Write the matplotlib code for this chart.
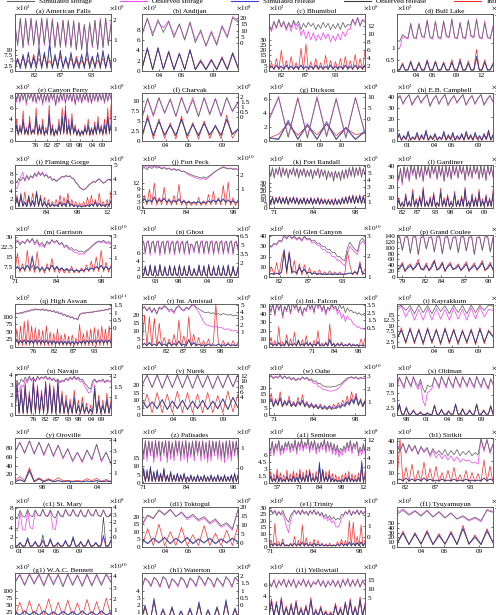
import numpy as np
import matplotlib
matplotlib.use("Agg")
import matplotlib.pyplot as plt
from matplotlib.lines import Line2D

plt.rcParams["font.family"] = ["Liberation Serif", "DejaVu Serif"]
plt.rcParams["mathtext.fontset"] = "stix"

C_SS, C_OS, C_SR, C_OR, C_IN = "#666666", "#f050f0", "#3c3ce0", "#3a3a48", "#f03030"

# ---- data (left-axis units) ----
a_ss = [22, 12, 25, 11, 25, 13, 25, 12, 24, 12, 25, 13, 25, 12, 24, 11, 23, 11, 24, 12, 24, 11, 24, 10, 23, 10, 22, 10, 23, 12, 24, 10, 24, 11, 25, 12, 22]
a_os = [21, 13, 25, 11, 24, 12, 25, 13, 24, 12, 25, 12, 24, 12, 25, 12, 23, 12, 24, 11, 24, 12, 23, 10, 23, 11, 22, 10, 22, 11, 24, 11, 25, 11, 25, 13, 23]
a_sr = [2, 6, 1, 8, 2, 9, 1, 7, 2, 12, 1, 9, 2, 14, 1, 8, 2, 10, 1, 7, 2, 9, 1, 6, 2, 8, 1, 11, 2, 7, 1, 9, 2, 10, 1, 8, 2]
a_or = [1, 5, 2, 7, 1, 8, 2, 6, 1, 10, 2, 8, 1, 12, 2, 7, 1, 9, 2, 6, 1, 8, 2, 5, 1, 7, 2, 9, 1, 6, 2, 8, 1, 9, 2, 7, 1]
a_in = [3, 6, 2, 7, 3, 5, 2, 8, 3, 6, 2, 7, 3, 5, 2, 6, 3, 7, 2, 5, 3, 6, 2, 7, 3, 5, 2, 6, 3, 7, 2, 5, 3, 6, 2, 7, 3]

b_ss = [7.2, 10.3, 6.8, 10.0, 7.5, 9.6, 6.5, 9.2, 6.0, 9.4, 5.5, 8.0, 4.8, 7.5, 5.0, 8.6, 6.5, 10.4, 9.5]
b_os = [7.0, 10.1, 7.4, 9.5, 8.4, 9.8, 7.0, 9.0, 6.2, 9.6, 6.0, 7.6, 5.0, 7.8, 5.3, 8.9, 6.8, 10.6, 9.8]
b_sr = [0.5, 4.6, 0.3, 4.5, 0.4, 3.8, 0.3, 3.5, 0.3, 4.2, 0.3, 2.0, 0.3, 2.2, 0.3, 2.6, 0.3, 3.5, 0.8]
b_or = [0.3, 4.2, 0.2, 4.3, 0.3, 3.6, 0.2, 3.3, 0.2, 4.0, 0.2, 1.8, 0.2, 2.0, 0.2, 2.4, 0.2, 3.3, 0.5]
b_in = [0.5, 4.4, 0.4, 4.6, 0.5, 3.9, 0.4, 3.4, 0.4, 4.1, 0.4, 2.2, 0.4, 2.3, 0.4, 2.8, 0.4, 3.6, 0.6]

c_ss = [45, 40, 48, 42, 50, 43, 48, 41, 47, 42, 49, 44, 48, 40, 46, 42, 47, 43, 46, 40, 45, 41, 47, 42, 46, 40, 45, 41, 46, 40, 47, 42, 45, 44, 50, 45, 51, 44, 49, 47]
c_os = [44, 38, 47, 41, 49, 42, 47, 39, 46, 38, 48, 40, 45, 34, 40, 31, 38, 30, 37, 29, 35, 30, 37, 31, 36, 28, 34, 29, 36, 30, 38, 33, 40, 40, 50, 44, 52, 43, 50, 48]
c_sr = [3, 5, 2, 6, 3, 5, 2, 6, 3, 5, 2, 5, 3, 6, 2, 5, 3, 5, 2, 6, 3, 5, 2, 5, 3, 6, 2, 5, 3, 5, 2, 6, 3, 5, 2, 6, 3, 5, 2, 6]
c_or = [2, 4, 2, 5, 2, 4, 2, 5, 2, 4, 2, 4, 2, 5, 2, 4, 2, 4, 2, 5, 2, 4, 2, 4, 2, 5, 2, 4, 2, 4, 2, 5, 2, 4, 2, 5, 2, 4, 2, 5]
c_in = [1, 8, 1, 12, 1, 20, 1, 10, 1, 14, 1, 8, 1, 22, 1, 26, 1, 9, 1, 12, 1, 8, 1, 15, 1, 10, 1, 9, 1, 12, 1, 14, 1, 10, 1, 16, 1, 12, 1, 20]

d_ss = [1.35, 1.3, 1.6, 1.5, 1.45, 2.1, 1.5, 1.45, 2.05, 1.55, 1.5, 2.2, 1.5, 1.45, 2.15, 1.5, 1.45, 2.2, 1.55, 1.5, 2.25, 1.5, 1.45, 2.1, 1.5, 1.45, 2.2, 1.55, 1.5, 2.25, 1.5, 1.45, 2.1, 1.5, 1.45, 1.9]
d_os = [1.0, 1.0, 1.5, 1.45, 1.4, 2.0, 1.45, 1.4, 2.1, 1.5, 1.45, 2.25, 1.45, 1.4, 2.2, 1.45, 1.4, 2.15, 1.5, 1.45, 2.3, 1.45, 1.4, 2.15, 1.45, 1.4, 2.25, 1.5, 1.45, 2.3, 1.45, 1.4, 2.2, 1.45, 1.4, 2.0]
d_sr = [0.05, 0.05, 0.3, 0.05, 0.05, 0.4, 0.05, 0.05, 0.35, 0.05, 0.05, 0.45, 0.05, 0.05, 0.4, 0.05, 0.05, 0.35, 0.05, 0.05, 0.4, 0.05, 0.05, 0.45, 0.05, 0.05, 0.35, 0.05, 0.05, 0.65, 0.05, 0.05, 0.4, 0.05, 0.05, 0.3]
d_or = [0.03, 0.04, 0.28, 0.03, 0.04, 0.37, 0.03, 0.04, 0.33, 0.03, 0.04, 0.42, 0.03, 0.04, 0.38, 0.03, 0.04, 0.33, 0.03, 0.04, 0.37, 0.03, 0.04, 0.42, 0.03, 0.04, 0.33, 0.03, 0.04, 0.55, 0.03, 0.04, 0.38, 0.03, 0.04, 0.28]
d_in = [0.05, 0.08, 0.35, 0.05, 0.08, 0.45, 0.05, 0.08, 0.4, 0.05, 0.08, 0.5, 0.05, 0.08, 0.45, 0.05, 0.08, 0.4, 0.05, 0.08, 0.5, 0.05, 0.08, 0.55, 0.05, 0.08, 0.45, 0.05, 0.08, 0.95, 0.05, 0.08, 0.5, 0.05, 0.08, 0.35]

e_ss = [8.4, 7.5, 8.6, 7.2, 8.5, 7.6, 8.6, 7.0, 8.4, 7.8, 8.5, 7.3, 8.6, 7.1, 8.3, 7.6, 8.5, 6.9, 8.4, 7.4, 8.5, 7.2, 8.6, 7.7, 8.4, 6.6, 8.3, 7.2, 8.5, 7.5, 8.6, 7.0, 8.4, 7.6, 8.5, 7.3, 8.6, 6.8, 8.3, 7.4, 8.5, 7.1, 8.4, 7.6, 8.6, 7.2, 8.5, 7.0, 8.4, 7.5, 8.6, 7.3, 8.5, 7.6, 8.4, 7.1, 8.6, 7.4, 8.5, 7.8]
e_os = [8.9, 7.0, 9.0, 6.9, 8.8, 7.3, 9.0, 6.5, 8.7, 7.5, 8.9, 7.0, 9.0, 6.8, 8.6, 7.2, 8.8, 6.5, 8.7, 7.0, 8.9, 6.9, 9.0, 7.4, 8.7, 6.3, 8.6, 6.9, 8.9, 7.2, 9.0, 6.7, 8.7, 7.3, 8.8, 7.0, 9.0, 6.5, 8.6, 7.1, 8.8, 6.8, 8.7, 7.3, 9.0, 6.9, 8.8, 6.7, 8.7, 7.2, 8.9, 7.0, 8.8, 7.3, 8.7, 6.8, 8.9, 7.1, 8.8, 7.5]
e_sr = [1.5, 3.0, 1.4, 2.5, 1.6, 4.0, 1.5, 2.2, 1.4, 3.5, 1.5, 2.0, 1.6, 4.5, 1.4, 2.5, 1.5, 3.0, 1.3, 2.0, 1.5, 5.0, 1.4, 2.5, 1.2, 2.0, 1.4, 3.0, 1.5, 4.5, 1.6, 5.5, 1.5, 3.0, 1.4, 4.0, 1.6, 2.5, 1.3, 2.0, 1.2, 1.8, 1.4, 2.5, 1.5, 3.0, 1.3, 2.2, 1.4, 2.8, 1.5, 3.5, 1.6, 2.5, 1.4, 3.0, 1.5, 4.5, 1.6, 3.0]
e_or = [1.3, 2.6, 1.2, 2.2, 1.4, 3.5, 1.3, 2.0, 1.2, 3.0, 1.3, 1.8, 1.4, 4.0, 1.2, 2.2, 1.3, 2.6, 1.1, 1.8, 1.3, 4.4, 1.2, 2.2, 1.0, 1.8, 1.2, 2.6, 1.3, 4.0, 1.4, 5.0, 1.3, 2.6, 1.2, 3.5, 1.4, 2.2, 1.1, 1.8, 1.0, 1.6, 1.2, 2.2, 1.3, 2.6, 1.1, 2.0, 1.2, 2.5, 1.3, 3.0, 1.4, 2.2, 1.2, 2.6, 1.3, 4.0, 1.4, 2.6]
e_in = [1.2, 4.0, 1.0, 3.0, 1.2, 5.5, 1.1, 2.5, 1.0, 4.5, 1.1, 2.2, 1.2, 6.0, 1.0, 3.0, 1.1, 4.0, 0.9, 2.5, 1.1, 6.5, 1.0, 3.0, 0.8, 2.2, 1.0, 4.0, 1.1, 6.0, 1.2, 6.5, 1.1, 4.0, 1.0, 5.0, 1.2, 3.0, 0.9, 2.2, 0.8, 2.0, 1.0, 3.0, 1.1, 4.0, 0.9, 2.5, 1.0, 3.5, 1.1, 4.5, 1.2, 3.0, 1.0, 4.0, 1.1, 6.0, 1.2, 6.5]

f_ss = [6.0, 10.6, 6.5, 10.8, 7.0, 10.5, 6.2, 10.7, 6.8, 10.2, 6.0, 10.6, 6.5, 10.4, 6.3, 10.8, 7.5, 9.5]
f_os = [5.5, 10.4, 6.0, 10.6, 6.8, 10.2, 6.0, 10.9, 7.0, 10.8, 6.2, 10.9, 6.8, 10.6, 6.0, 10.7, 7.2, 9.8]
f_sr = [1.5, 5.8, 1.5, 5.0, 1.6, 4.0, 1.5, 5.5, 1.4, 4.2, 1.5, 4.5, 1.6, 3.8, 1.5, 5.5, 1.8, 3.0]
f_or = [1.3, 5.5, 1.3, 4.7, 1.4, 3.8, 1.3, 5.2, 1.2, 4.0, 1.3, 4.3, 1.4, 3.6, 1.3, 5.2, 1.6, 2.8]
f_in = [0.6, 6.5, 0.5, 5.5, 0.6, 4.5, 0.5, 6.2, 0.5, 4.6, 0.5, 5.0, 0.6, 4.0, 0.5, 6.4, 0.7, 3.0]

g_ss = [3.0, 6.2, 0.5, 6.1, 0.4, 6.2, 0.6, 6.0, 0.4, 6.2, 1.0]
g_os = [3.3, 6.4, 0.7, 6.3, 0.6, 6.4, 0.8, 6.2, 0.6, 6.3, 1.2]
g_sr = [0.5, 0.3, 3.0, 0.3, 2.5, 0.3, 2.8, 0.3, 2.0, 0.3, 1.5]
g_or = [0.4, 0.2, 2.7, 0.2, 2.2, 0.2, 2.5, 0.2, 1.8, 0.2, 1.3]
g_in = [0.4, 1.0, 2.5, 0.8, 2.2, 0.9, 2.4, 0.8, 1.9, 0.9, 1.2]

h_ss = [38, 41, 34, 39, 42, 33, 38, 41, 35, 39, 42, 32, 38, 41, 34, 39, 42, 33, 38, 41, 35, 39, 42, 33, 38, 41, 34, 39, 42, 33, 38, 41, 36]
h_os = [37, 41.5, 33, 38.5, 42, 32, 37, 41.5, 34, 38.5, 42, 31, 37, 41.5, 33, 38.5, 42, 32, 37, 41.5, 34, 38.5, 42, 32, 37, 41.5, 33, 38.5, 42, 32, 37, 41.5, 35]
h_sr = [2, 7, 1, 5, 2, 9, 1, 4, 2, 8, 1, 6, 2, 10, 1, 5, 2, 7, 1, 4, 2, 9, 1, 6, 2, 8, 1, 5, 2, 7, 1, 9, 2, 6, 1, 8, 2, 5, 1, 7, 2, 10, 1, 6]
h_or = [1.5, 6, 1, 4.5, 1.5, 8, 1, 3.5, 1.5, 7, 1, 5, 1.5, 9, 1, 4.5, 1.5, 6, 1, 3.5, 1.5, 8, 1, 5, 1.5, 7, 1, 4.5, 1.5, 6, 1, 8, 1.5, 5, 1, 7, 1.5, 4.5, 1, 6, 1.5, 9, 1, 5]
h_in = [1, 5, 0.5, 4, 1, 6, 0.5, 3, 1, 5, 0.5, 4, 1, 7, 0.5, 3, 1, 5, 0.5, 3, 1, 6, 0.5, 4, 1, 5, 0.5, 3, 1, 5, 0.5, 6, 1, 4, 0.5, 5, 1, 3, 0.5, 5, 1, 7, 0.5, 4]

i_ss = [6.5, 6.0, 7.0, 6.4, 7.2, 6.6, 7.5, 6.8, 7.6, 7.0, 8.0, 7.4, 8.3, 7.6, 8.2, 7.4, 7.8, 7.0, 7.3, 6.5, 6.8, 6.2, 6.6, 6.9, 7.4, 7.2, 7.6, 7.3, 7.5, 7.0, 6.8, 6.0, 5.5, 4.8, 4.5, 4.2, 4.5, 5.0, 5.5, 5.8, 6.2, 6.0, 6.5, 6.8, 6.3, 5.8, 6.0, 6.5, 6.7, 6.4]
i_os = [5.0, 4.5, 6.0, 7.5, 8.4, 6.2, 7.8, 6.5, 7.5, 7.2, 8.3, 7.6, 8.6, 7.8, 8.5, 7.5, 8.0, 7.2, 7.4, 6.6, 6.9, 6.3, 6.7, 7.0, 7.5, 7.3, 7.7, 7.4, 7.6, 7.1, 6.9, 6.1, 5.6, 4.9, 4.6, 4.3, 4.6, 5.1, 5.6, 5.9, 6.3, 6.1, 6.6, 6.9, 6.4, 5.9, 6.1, 6.6, 6.8, 6.5]
i_sr = [0.5, 2.5, 0.4, 3.5, 0.5, 1.5, 0.4, 3.0, 0.5, 1.8, 0.4, 3.8, 0.5, 2.5, 0.4, 1.5, 0.5, 1.2, 0.4, 1.0, 0.5, 0.8, 0.4, 1.5, 0.5, 1.2, 0.4, 2.0, 0.5, 1.0, 0.4, 0.7, 0.4, 0.6, 0.3, 0.6, 0.4, 0.8, 0.4, 1.0, 0.5, 1.5, 0.4, 1.2, 0.5, 0.8, 0.4, 1.0, 0.5, 1.8]
i_or = [0.4, 2.0, 0.3, 3.0, 0.4, 1.2, 0.3, 2.6, 0.4, 1.5, 0.3, 3.4, 0.4, 2.2, 0.3, 1.3, 0.4, 1.0, 0.3, 0.8, 0.4, 0.7, 0.3, 1.3, 0.4, 1.0, 0.3, 1.8, 0.4, 0.9, 0.3, 0.6, 0.3, 0.5, 0.2, 0.5, 0.3, 0.7, 0.3, 0.9, 0.4, 1.3, 0.3, 1.0, 0.4, 0.7, 0.3, 0.9, 0.4, 1.6]
i_in = [0.3, 3.0, 0.3, 2.5, 0.3, 3.8, 0.3, 2.0, 0.3, 3.5, 0.3, 4.0, 0.3, 3.0, 0.3, 2.5, 0.3, 2.0, 0.3, 1.5, 0.3, 2.0, 0.3, 3.0, 0.3, 2.5, 0.3, 3.5, 0.3, 2.0, 0.3, 1.5, 0.3, 1.2, 0.3, 1.5, 0.3, 2.5, 0.3, 3.0, 0.3, 2.0, 0.3, 3.5, 0.3, 1.5, 0.3, 2.0, 0.3, 4.0]

j_ss = [19.0, 19.5, 18.5, 19.8, 19.0, 20.0, 19.2, 19.6, 18.8, 19.4, 18.6, 19.0, 18.2, 18.8, 18.0, 18.5, 17.5, 17.8, 17.0, 16.5, 16.0, 15.5, 15.2, 14.8, 14.5, 15.0, 14.4, 15.2, 16.0, 17.0, 17.8, 18.5, 19.0, 19.5, 19.2, 18.8, 19.0, 18.6, 18.8, 18.4]
j_os = [19.8, 20.2, 19.5, 20.3, 19.8, 20.4, 19.9, 20.0, 19.2, 19.8, 18.9, 19.3, 18.5, 19.0, 18.2, 18.7, 17.6, 17.7, 16.8, 16.0, 15.4, 14.8, 14.4, 14.0, 13.8, 14.3, 13.6, 14.6, 15.6, 16.8, 17.6, 18.6, 19.3, 19.9, 19.5, 19.0, 19.3, 18.8, 19.0, 18.6]
j_sr = [3.5, 4.5, 3.0, 4.0, 3.2, 5.5, 3.0, 4.2, 3.5, 4.8, 3.0, 4.0, 2.8, 3.8, 3.0, 4.5, 2.8, 3.5, 2.5, 3.2, 2.4, 3.0, 2.5, 3.2, 2.3, 3.0, 2.5, 3.5, 2.8, 4.0, 3.0, 4.2, 3.2, 4.5, 3.0, 4.0, 2.8, 3.6, 2.6, 3.2]
j_or = [3.0, 4.2, 2.6, 3.6, 2.8, 5.0, 2.7, 3.8, 3.1, 4.4, 2.7, 3.6, 2.5, 3.4, 2.7, 4.0, 2.5, 3.2, 2.3, 2.9, 2.2, 2.7, 2.3, 2.9, 2.1, 2.7, 2.3, 3.2, 2.5, 3.6, 2.7, 3.8, 2.9, 4.1, 2.7, 3.6, 2.5, 3.3, 2.4, 2.9]
j_in = [1.5, 6.0, 1.4, 9.0, 1.5, 12.0, 1.3, 5.0, 1.5, 10.0, 1.4, 4.5, 1.3, 6.0, 1.5, 11.5, 1.3, 4.0, 1.2, 3.5, 1.2, 3.0, 1.3, 5.0, 1.2, 3.5, 1.3, 6.5, 1.4, 8.0, 1.5, 5.0, 1.5, 11.0, 1.4, 12.5, 1.3, 5.0, 1.2, 4.0]

k_ss = [47, 38, 49, 36, 48, 40, 50, 37, 49, 39, 48, 36, 47, 40, 49, 38, 48, 36, 47, 39, 48, 37, 46, 38, 47, 35, 46, 39, 48, 36, 47, 38, 46, 34, 45, 37, 44, 32, 45, 36, 44, 33, 46, 35, 47, 36, 49, 38, 50, 37, 49, 39, 50, 37, 48, 40]
k_os = [46, 40, 48, 38, 47, 41, 49, 39, 48, 41, 47, 38, 46, 42, 48, 40, 47, 38, 46, 41, 47, 39, 45, 40, 46, 37, 45, 41, 47, 38, 46, 40, 45, 36, 44, 39, 43, 35, 44, 38, 43, 36, 45, 37, 46, 38, 47, 40, 49, 39, 48, 41, 49, 39, 47, 41]
k_sr = [12, 6, 13, 5, 12, 7, 13, 6, 12, 6, 13, 5, 12, 7, 13, 6, 12, 5, 11, 6, 12, 5, 11, 6, 12, 5, 11, 6, 12, 5, 11, 6, 10, 5, 10, 5, 10, 4, 11, 5, 10, 5, 12, 6, 13, 6, 14, 7, 15, 6, 14, 7, 15, 6, 14, 7]
k_or = [11, 5, 12, 4.5, 11, 6, 12, 5, 11, 5, 12, 4.5, 11, 6, 12, 5, 11, 4.5, 10, 5, 11, 4.5, 10, 5, 11, 4.5, 10, 5, 11, 4.5, 10, 5, 9, 4.5, 9, 4.5, 9, 4, 10, 4.5, 9, 4.5, 11, 5, 12, 5, 13, 6, 14, 5, 13, 6, 14, 5, 13, 6]
k_in = [13, 5, 14, 4, 13, 6, 14, 5, 13, 5, 14, 4, 13, 6, 14, 5, 13, 4, 12, 5, 13, 4, 12, 5, 13, 4, 12, 5, 13, 4, 12, 5, 11, 4, 11, 4, 11, 3, 12, 4, 11, 4, 13, 5, 14, 5, 15, 6, 16, 5, 15, 6, 16, 5, 15, 6]

l_ss = [36, 28, 38, 24, 40, 30, 39, 27, 41, 33, 40, 28, 41, 30, 40, 26, 41, 32, 40, 29, 41, 33, 40, 28, 41, 31, 40, 26, 41, 30, 40, 28, 41, 32, 40, 29, 41, 33, 40, 27, 41, 31, 40, 29, 41, 33, 40, 28, 41, 30, 40, 27, 41, 32, 40, 30]
l_os = [35, 26, 37, 22, 39, 28, 38, 25, 40, 31, 39, 27, 40, 29, 39, 25, 40, 31, 39, 28, 40, 32, 39, 27, 40, 30, 39, 25, 40, 29, 39, 27, 40, 31, 39, 28, 40, 32, 39, 26, 40, 30, 39, 28, 40, 32, 39, 27, 40, 29, 39, 26, 40, 31, 39, 29]
l_sr = [2, 8, 2, 5, 2, 12, 2, 6, 2, 15, 2, 7, 2, 10, 2, 18, 2, 6, 2, 9, 2, 13, 2, 5, 2, 16, 2, 8, 2, 11, 2, 6, 2, 14, 2, 7, 2, 10, 2, 18, 2, 6, 2, 12, 2, 9, 2, 15, 2, 7, 2, 11, 2, 8, 2, 14]
l_or = [1.5, 7, 1.5, 4.5, 1.5, 10, 1.5, 5, 1.5, 13, 1.5, 6, 1.5, 9, 1.5, 16, 1.5, 5, 1.5, 8, 1.5, 11, 1.5, 4.5, 1.5, 14, 1.5, 7, 1.5, 10, 1.5, 5, 1.5, 12, 1.5, 6, 1.5, 9, 1.5, 16, 1.5, 5, 1.5, 10, 1.5, 8, 1.5, 13, 1.5, 6, 1.5, 10, 1.5, 7, 1.5, 12]
l_in = [1, 10, 1, 6, 1, 14, 1, 7, 1, 18, 1, 9, 1, 12, 1, 20, 1, 7, 1, 11, 1, 15, 1, 6, 1, 19, 1, 10, 1, 13, 1, 7, 1, 16, 1, 8, 1, 12, 1, 20, 1, 7, 1, 14, 1, 11, 1, 18, 1, 9, 1, 13, 1, 10, 1, 17]

m_ss = [25, 27, 24, 26.5, 25, 28.5, 26, 29, 25.5, 28, 24, 26, 23, 27, 25, 28, 26, 27.5, 24.5, 26, 23, 24, 21.5, 22, 20, 20.5, 19, 19.5, 18.5, 20, 21, 23, 24.5, 26, 27, 26.5, 27.5, 26, 26.5, 25.5]
m_os = [26, 28, 25, 27, 25.5, 28, 25.5, 28.5, 24, 26.5, 22.5, 24.5, 22, 26, 24.5, 27.5, 25.5, 27, 24, 25.5, 22, 23, 20.5, 20.5, 18.5, 18.5, 17, 17.5, 17, 19, 20.5, 22.5, 24, 25.5, 26.5, 25.5, 26.5, 25, 25.5, 24.5]
m_sr = [6, 8, 5.5, 7.5, 6, 9, 6, 16, 6, 8, 5.5, 7, 5, 7.5, 6, 9, 6, 8, 5.5, 7, 5, 6.5, 5, 6, 4.5, 5.5, 4.5, 5.5, 5, 6.5, 5.5, 7, 6, 8, 6.5, 9, 6, 8, 6, 7.5]
m_or = [5.5, 7.5, 5, 7, 5.5, 8.5, 5.5, 14, 5.5, 7.5, 5, 6.5, 4.5, 7, 5.5, 8.5, 5.5, 7.5, 5, 6.5, 4.5, 6, 4.5, 5.5, 4, 5, 4, 5, 4.5, 6, 5, 6.5, 5.5, 7.5, 6, 8.5, 5.5, 7.5, 5.5, 7]
m_in = [4, 18, 3.5, 10, 4, 20, 4, 9, 3.5, 19, 3.5, 8, 3, 10, 4, 14, 3.5, 8, 3, 7, 3, 6, 3, 8, 3, 6, 3, 7, 3.5, 9, 4, 12, 4, 15, 4, 20, 4, 11, 3.5, 9]

n_ss = [8.5, 8.8, 6.2, 8.6, 8.9, 6.0, 8.5, 8.8, 6.3, 8.6, 8.9, 5.9, 8.4, 8.8, 6.1, 8.6, 8.9, 6.2, 8.5, 8.8, 6.0, 8.6, 8.9, 6.3, 8.4, 8.8, 6.1, 8.5, 8.9, 6.0, 8.2, 8.0, 6.5, 8.5, 8.8, 6.2, 8.6, 8.9, 6.1, 8.5, 8.8, 6.2, 8.6, 8.9, 6.0, 8.5, 8.8, 6.3, 8.6, 8.9, 6.1, 8.5, 8.8, 6.2, 8.6, 8.9, 6.0, 8.5, 8.8, 7.0]
n_os = [8.7, 9.0, 5.7, 8.8, 9.1, 5.4, 8.7, 9.0, 5.8, 8.8, 9.1, 5.3, 8.6, 9.0, 5.6, 8.8, 9.1, 5.7, 8.7, 9.0, 5.5, 8.8, 9.1, 5.8, 8.6, 9.0, 5.6, 8.7, 9.1, 5.5, 8.3, 7.8, 6.0, 8.7, 9.0, 5.7, 8.8, 9.1, 5.6, 8.7, 9.0, 5.7, 8.8, 9.1, 5.5, 8.7, 9.0, 5.8, 8.8, 9.1, 5.6, 8.7, 9.0, 5.7, 8.8, 9.1, 5.5, 8.7, 9.0, 6.6]
n_sr = [0.6, 0.5, 2.8, 0.6, 0.5, 3.1, 0.6, 0.5, 2.9, 0.6, 0.5, 3.2, 0.6, 0.5, 2.7, 0.6, 0.5, 3.0, 0.6, 0.5, 2.9, 0.6, 0.5, 3.1, 0.6, 0.5, 2.8, 0.6, 0.5, 3.0, 0.6, 0.5, 2.2, 0.6, 0.5, 3.1, 0.6, 0.5, 2.9, 0.6, 0.5, 3.2, 0.6, 0.5, 2.8, 0.6, 0.5, 3.0, 0.6, 0.5, 2.9, 0.6, 0.5, 3.1, 0.6, 0.5, 2.8, 0.6, 0.5, 2.6]
n_or = [0.5, 0.4, 2.6, 0.5, 0.4, 2.9, 0.5, 0.4, 2.7, 0.5, 0.4, 3.0, 0.5, 0.4, 2.5, 0.5, 0.4, 2.8, 0.5, 0.4, 2.7, 0.5, 0.4, 2.9, 0.5, 0.4, 2.6, 0.5, 0.4, 2.8, 0.5, 0.4, 2.0, 0.5, 0.4, 2.9, 0.5, 0.4, 2.7, 0.5, 0.4, 3.0, 0.5, 0.4, 2.6, 0.5, 0.4, 2.8, 0.5, 0.4, 2.7, 0.5, 0.4, 2.9, 0.5, 0.4, 2.6, 0.5, 0.4, 2.4]
n_in = [0.5, 0.4, 2.3, 0.5, 0.4, 2.6, 0.5, 0.4, 2.4, 0.5, 0.4, 2.7, 0.5, 0.4, 2.2, 0.5, 0.4, 2.5, 0.5, 0.4, 2.4, 0.5, 0.4, 2.6, 0.5, 0.4, 2.3, 0.5, 0.4, 2.5, 0.5, 0.4, 1.8, 0.5, 0.4, 2.6, 0.5, 0.4, 2.4, 0.5, 0.4, 2.7, 0.5, 0.4, 2.3, 0.5, 0.4, 2.5, 0.5, 0.4, 2.4, 0.5, 0.4, 2.6, 0.5, 0.4, 2.3, 0.5, 0.4, 2.1]

o_ss = [31, 30, 33, 32, 36, 35, 40, 37, 41, 38, 40, 37, 39, 36, 40, 37, 38, 35, 36, 33, 33, 30, 30, 27, 27, 24, 24, 20, 20, 17, 16, 28, 34, 30, 27, 25, 35, 38, 34]
o_os = [30, 29, 32, 31, 35, 34, 43, 38, 41, 37, 39, 36, 38, 35, 39, 36, 37, 33, 34, 31, 31, 27, 27, 24, 24, 20, 20, 16, 16, 13, 11, 22, 30, 27, 24, 22, 32, 35, 32]
o_sr = [3, 3.5, 3, 4, 3, 5, 27, 6, 24, 5, 6, 4, 10, 5, 8, 4, 5, 3.5, 4, 3, 3.5, 3, 3, 3, 3, 3, 3, 3, 3, 3, 3, 3.5, 4, 3.5, 5, 3.5, 13, 4, 3.5]
o_or = [2.5, 3, 2.5, 3.5, 2.5, 4.5, 24, 5, 22, 4.5, 5, 3.5, 9, 4.5, 7, 3.5, 4.5, 3, 3.5, 2.5, 3, 2.5, 2.5, 2.5, 2.5, 2.5, 2.5, 2.5, 2.5, 2.5, 2.5, 3, 3.5, 3, 4.5, 3, 11, 3.5, 3]
o_in = [2, 10, 2, 14, 2, 18, 26, 3, 25, 3, 16, 2, 13, 2, 12, 2, 9, 2, 6, 2, 7, 2, 5, 2, 6, 2, 5, 2, 5, 2, 3, 25, 12, 2, 6, 2, 15, 2, 8]

p_ss = [134, 136, 90, 135, 137, 80, 136, 137, 75, 135, 137, 95, 134, 136, 85, 136, 137, 78, 135, 137, 92, 134, 136, 82, 136, 137, 88, 135, 137, 76, 134, 136, 90, 136, 137, 85, 135]
p_os = [135, 137, 92, 136, 138, 83, 137, 138, 78, 136, 138, 97, 135, 137, 87, 137, 138, 80, 136, 138, 94, 135, 137, 84, 137, 138, 90, 136, 138, 79, 135, 137, 92, 137, 138, 87, 136]
p_sr = [25, 30, 45, 22, 32, 40, 28, 35, 50, 30, 25, 42, 24, 34, 55, 26, 30, 48, 22, 36, 44, 28, 30, 40, 25, 33, 46, 24, 31, 42, 27, 35, 50, 26, 30, 44, 28]
p_or = [22, 28, 42, 20, 30, 37, 26, 33, 47, 28, 23, 39, 22, 31, 52, 24, 28, 45, 20, 34, 41, 26, 28, 37, 23, 31, 43, 22, 29, 39, 25, 33, 47, 24, 28, 41, 26]
p_in = [20, 35, 50, 18, 38, 45, 22, 40, 60, 25, 30, 48, 20, 42, 58, 22, 35, 52, 18, 40, 50, 24, 34, 45, 20, 38, 52, 18, 36, 48, 22, 40, 56, 20, 35, 50, 22]

q_ss = [108, 112, 110, 114, 112, 117, 116, 120, 119, 124, 122, 126, 123, 125, 122, 126, 121, 124, 119, 122, 117, 120, 114, 117, 110, 113, 105, 108, 101, 104, 97, 100, 93, 95, 90, 108, 110, 113, 112, 115, 113, 116, 115, 118, 117, 120, 119, 122, 121, 124, 123, 127, 126]
q_os = [109, 113, 111, 115, 113, 118, 117, 121, 120, 125, 123, 127, 124, 126, 123, 127, 122, 125, 120, 123, 118, 121, 115, 118, 111, 114, 106, 109, 102, 105, 98, 101, 94, 96, 91, 109, 111, 114, 113, 116, 114, 117, 116, 119, 118, 121, 120, 123, 122, 125, 124, 128, 127]
q_sr = [14, 24, 13, 23, 14, 25, 13, 24, 14, 23, 13, 25, 14, 24, 13, 23, 14, 24, 13, 22, 12, 22, 12, 21, 12, 21, 11, 20, 11, 20, 11, 19, 11, 19, 12, 21, 13, 22, 13, 23, 14, 23, 14, 24, 14, 24, 15, 25, 14, 24, 15, 25, 14]
q_or = [12, 21, 11, 20, 12, 22, 11, 21, 12, 20, 11, 22, 12, 21, 11, 20, 12, 21, 11, 19, 10, 19, 10, 18, 10, 18, 9, 17, 9, 17, 9, 16, 9, 16, 10, 18, 11, 19, 11, 20, 12, 20, 12, 21, 12, 21, 13, 22, 12, 21, 13, 22, 12]
q_in = [4, 60, 4, 70, 4, 85, 4, 90, 4, 70, 4, 65, 4, 60, 4, 55, 4, 70, 4, 50, 4, 45, 4, 60, 4, 40, 4, 45, 4, 35, 4, 40, 4, 30, 4, 75, 4, 45, 4, 55, 4, 60, 4, 65, 4, 60, 4, 70, 4, 60, 4, 70, 4]

r_ss = [24, 25.5, 23, 25, 22, 24.5, 21, 25, 24, 26, 25, 23, 24, 22, 25, 26, 24, 23, 25, 24, 26, 27, 25, 24, 23, 22, 21.5, 22, 21, 21.5, 20.5, 21, 20, 21, 20.5, 20, 20.5, 19.5, 20, 19.5]
r_os = [23.5, 25, 22.5, 24.5, 21.5, 24, 20.5, 24.5, 23.5, 25.5, 24.5, 22, 23, 21, 24.5, 25.5, 23.5, 22.5, 24.5, 23.5, 25.5, 26.5, 24, 22, 19, 16, 14, 13.5, 13, 12.5, 13, 12, 12.5, 11.5, 11, 11.5, 10.5, 10, 10.5, 10]
r_sr = [1, 2.5, 1, 3, 1, 2, 1, 3.5, 1, 2, 1, 3, 1, 2.5, 1, 4, 1, 2, 1, 5, 1, 3, 1, 2, 1, 1.5, 1, 2, 1, 1.5, 1, 2, 1, 1.5, 1, 2, 1, 1.5, 1, 1.5]
r_or = [0.8, 2, 0.8, 2.5, 0.8, 1.6, 0.8, 3, 0.8, 1.6, 0.8, 2.5, 0.8, 2, 0.8, 3.4, 0.8, 1.6, 0.8, 4.2, 0.8, 2.5, 0.8, 1.6, 0.8, 1.2, 0.8, 1.6, 0.8, 1.2, 0.8, 1.6, 0.8, 1.2, 0.8, 1.6, 0.8, 1.2, 0.8, 1.2]
r_in = [0.5, 20, 0.5, 19, 0.5, 18, 0.5, 15, 0.5, 6, 0.5, 5, 0.5, 8, 0.5, 17, 0.5, 7, 0.5, 19, 0.5, 8, 0.5, 6, 0.5, 4, 0.5, 5, 0.5, 3, 27, 3, 0.5, 4, 0.5, 3, 0.5, 4, 0.5, 3]

s_ss = [50, 44, 52, 40, 54, 46, 52, 38, 50, 45, 53, 42, 55, 48, 52, 44, 50, 40, 48, 45, 54, 47, 52, 43, 55, 49, 53, 45, 51, 42, 49, 46, 53, 48, 50, 44, 52, 47, 50, 42, 48, 44, 45, 42, 43, 40, 42, 39, 40, 38]
s_os = [51, 42, 53, 38, 55, 44, 51, 35, 49, 43, 54, 40, 56, 46, 51, 42, 49, 38, 47, 43, 55, 45, 51, 41, 56, 47, 52, 43, 50, 39, 48, 44, 52, 46, 48, 40, 45, 35, 40, 31, 38, 34, 33, 28, 27, 24, 25, 22, 23, 21]
s_sr = [2, 5, 1.5, 4, 2, 6, 1.5, 3, 2, 8, 1.5, 4, 2, 5, 1.5, 9, 2, 4, 1.5, 6, 2, 5, 1.5, 4, 2, 7, 1.5, 3, 2, 5, 1.5, 10, 2, 4, 1.5, 5, 2, 4, 1.5, 3, 2, 4, 1.5, 3, 2, 3, 1.5, 2.5, 1.5, 2.5]
s_or = [1.6, 4, 1.2, 3.2, 1.6, 4.8, 1.2, 2.4, 1.6, 6.4, 1.2, 3.2, 1.6, 4, 1.2, 7.2, 1.6, 3.2, 1.2, 4.8, 1.6, 4, 1.2, 3.2, 1.6, 5.6, 1.2, 2.4, 1.6, 4, 1.2, 8, 1.6, 3.2, 1.2, 4, 1.6, 3.2, 1.2, 2.4, 1.6, 3.2, 1.2, 2.4, 1.6, 2.4, 1.2, 2, 1.2, 2]
s_in = [1, 12, 1, 8, 1, 25, 1, 6, 1, 15, 1, 10, 1, 18, 1, 7, 1, 9, 1, 14, 1, 6, 1, 8, 1, 20, 1, 5, 1, 6, 1, 28, 1, 5, 1, 4, 1, 6, 1, 3, 1, 5, 1, 4, 1, 3, 1, 10, 1, 11]

t_ss = [18.5, 19.5, 17, 19.3, 15.5, 19.5, 16, 19.3, 15.5, 19.5, 16.5, 19.2, 15.5, 19.4, 16, 19.3, 15.5, 19.5, 16, 19.4, 17, 19.5, 19]
t_os = [17, 19, 14, 18, 12.5, 17.5, 12.5, 18, 12.5, 17.8, 13, 17.5, 12.5, 18, 13, 17.6, 12.5, 18.2, 13, 18.5, 14, 17.5, 17]
t_sr = [4, 8, 2.5, 8.5, 2.5, 8, 2, 8.5, 2.5, 8, 2, 8.5, 2.5, 8, 2, 7.5, 2.5, 8, 2, 8.5, 2.5, 7.5, 5]
t_or = [3.8, 7.6, 2.3, 8.1, 2.3, 7.6, 1.8, 8.1, 2.3, 7.6, 1.8, 8.1, 2.3, 7.6, 1.8, 7.1, 2.3, 7.6, 1.8, 8.1, 2.3, 7.1, 4.7]
t_in = [3.5, 9, 1.5, 9, 1.5, 8.5, 1, 9, 1.5, 8.5, 1, 9, 1.5, 8.5, 1, 8, 1.5, 8.5, 1, 9, 1.5, 8, 5]

u_ss = [3.2, 3.4, 3.0, 3.6, 3.3, 3.8, 3.4, 3.9, 3.5, 3.8, 3.4, 3.9, 3.6, 3.8, 3.7, 3.9, 3.6, 3.8, 3.5, 3.7, 3.4, 3.6, 3.3, 3.5, 3.4, 3.7, 3.5, 3.8, 3.6, 3.9, 3.6, 3.8, 3.5, 3.6, 3.2, 3.0, 2.7, 2.6, 3.4, 3.6, 3.3, 3.5, 3.4, 3.6, 3.3, 3.5, 3.4, 3.4]
u_os = [2.0, 2.2, 2.4, 3.0, 2.8, 3.5, 3.2, 3.8, 3.4, 3.7, 3.3, 3.8, 3.5, 3.8, 3.6, 3.8, 3.5, 3.7, 3.4, 3.6, 3.3, 3.5, 3.2, 3.4, 3.3, 3.6, 3.4, 3.7, 3.5, 3.8, 3.5, 3.7, 3.3, 3.4, 2.9, 2.6, 2.2, 2.3, 3.1, 3.5, 3.2, 3.4, 3.3, 3.5, 3.2, 3.4, 3.3, 3.3]
u_sr = [0.2, 3.2, 0.2, 2.5, 0.2, 3.0, 0.2, 2.0, 0.2, 3.5, 0.2, 2.8, 0.2, 2.2, 0.2, 3.3, 0.2, 3.0, 0.2, 2.6, 0.2, 3.4, 0.2, 2.0, 0.2, 1.5, 0.2, 1.2, 0.2, 1.8, 0.2, 1.0, 0.2, 1.2, 0.2, 0.8, 0.2, 0.6, 0.2, 2.8, 0.2, 1.5, 0.2, 1.0, 0.2, 1.6, 0.2, 1.2]
u_or = [0.2, 2.7, 0.2, 2.1, 0.2, 2.6, 0.2, 1.7, 0.2, 3.0, 0.2, 2.4, 0.2, 1.9, 0.2, 2.8, 0.2, 2.6, 0.2, 2.2, 0.2, 2.9, 0.2, 1.7, 0.2, 1.3, 0.2, 1.0, 0.2, 1.5, 0.2, 0.9, 0.2, 1.0, 0.2, 0.7, 0.2, 0.5, 0.2, 2.4, 0.2, 1.3, 0.2, 0.9, 0.2, 1.4, 0.2, 1.0]
u_in = [0.1, 3.5, 0.1, 2.8, 0.1, 3.2, 0.1, 2.4, 0.1, 3.6, 0.1, 3.0, 0.1, 2.5, 0.1, 3.4, 0.1, 3.2, 0.1, 2.9, 0.1, 3.5, 0.1, 2.4, 0.1, 2.0, 0.1, 1.6, 0.1, 2.5, 0.1, 1.5, 0.1, 1.8, 0.1, 1.2, 0.1, 1.0, 0.1, 3.0, 0.1, 2.0, 0.1, 1.5, 0.1, 2.2, 0.1, 1.6]

v_ss = [20, 26.5, 18.5, 26.8, 18, 26.5, 18.5, 26.8, 18.3, 26.5, 18, 26.7, 18.5, 26.3, 17.8, 26, 18.2, 26.8, 19, 27]
v_os = [19.5, 26.8, 18.2, 27, 17.8, 26.8, 18.2, 27, 18, 26.8, 17.8, 27, 18.2, 26.5, 17.5, 26.3, 18, 27, 18.8, 27.2]
v_sr = [10, 5, 9, 4.5, 10.5, 4, 9.5, 4.5, 10, 4, 9.5, 4.5, 10, 4, 9.5, 4.5, 11, 4, 12, 5]
v_or = [9.5, 4.5, 8.5, 4, 10, 3.5, 9, 4, 9.5, 3.5, 9, 4, 9.5, 3.5, 9, 4, 10.5, 3.5, 11.5, 4.5]
v_in = [2, 14, 1.5, 15, 1.5, 14, 1.5, 16, 1.5, 15, 1.5, 14, 1.5, 15, 1.5, 13, 1.5, 16, 2, 14]

w_ss = [27, 28.5, 26.5, 28, 27, 29, 26.5, 28.5, 27, 28, 26, 27.5, 25.5, 27, 26, 28, 26.5, 27.5, 25.5, 26.5, 24.5, 25, 23, 23, 21.5, 21, 20.5, 20.5, 20.5, 21, 21, 22, 22.5, 24, 25.5, 27, 27.5, 28, 27, 28, 26.5, 27.5, 27, 27]
w_os = [28, 29, 27, 28.5, 27.5, 29, 26.5, 28.5, 26.5, 27.5, 25.5, 27, 25, 26.5, 25.5, 27.5, 26, 27, 25, 25.5, 23, 23.5, 21, 20.5, 19, 18.5, 18, 17.5, 17.5, 18, 18.5, 19.5, 21, 23, 24.5, 26, 27, 27.5, 26.5, 27.5, 26, 27, 26.5, 26.5]
w_sr = [10, 12, 7, 11, 8, 13, 7, 10, 8, 11, 7, 9, 7, 10, 8, 11, 7, 9, 6.5, 8, 6, 7.5, 5.5, 7, 5, 6.5, 5, 6.5, 5, 6, 5.5, 7, 6, 8, 7, 10, 8, 12, 9, 14, 8, 11, 7, 10]
w_or = [9, 11, 6, 10, 7, 12, 6, 9, 7, 10, 6, 8, 6, 9, 7, 10, 6, 8, 5.5, 7, 5, 6.5, 4.5, 6, 4, 5.5, 4, 5.5, 4, 5, 4.5, 6, 5, 7, 6, 9, 7, 11, 8, 13, 7, 10, 6, 9]
w_in = [8, 16, 6, 12, 7, 17, 6, 11, 7, 14, 6, 10, 6, 13, 7, 15, 6, 10, 5, 9, 5, 8, 4.5, 8, 4.5, 7, 4, 7, 4.5, 8, 5, 9, 6, 11, 7, 14, 8, 17, 9, 16, 7, 12, 6, 11]

x_ss = [10.0, 12.5, 11.0, 9.5, 12.8, 11.2, 9.8, 12.7, 10.8, 9.5, 12.0, 9.0, 7.5, 10.0, 9.5, 9.8, 12.5, 11.0, 9.5, 12.8, 11.2, 9.7, 12.6, 10.9, 9.5, 12.8, 11.0, 9.6, 12.7, 11.2, 9.8, 12.5, 10.8, 9.5, 12.8, 11.0, 9.6, 12.4, 10.5, 9.0, 12.0, 10.5]
x_os = [9.0, 12.6, 10.5, 8.8, 13.0, 10.8, 9.2, 12.9, 10.0, 8.5, 11.0, 5.0, 3.0, 7.5, 8.0, 9.0, 12.6, 10.5, 8.8, 13.0, 10.8, 9.0, 12.8, 10.4, 8.9, 13.0, 10.6, 9.0, 12.9, 10.8, 9.2, 12.6, 10.3, 8.9, 13.0, 10.6, 9.0, 12.5, 10.0, 8.5, 12.2, 10.0]
x_sr = [0.3, 3.8, 0.4, 0.3, 2.5, 0.3, 0.3, 1.5, 0.3, 0.2, 0.8, 0.2, 0.2, 0.6, 0.2, 0.3, 3.2, 0.3, 0.3, 1.8, 0.3, 0.3, 1.2, 0.3, 0.3, 3.8, 0.4, 0.3, 2.0, 0.3, 0.3, 1.5, 0.3, 0.3, 3.6, 0.3, 0.3, 1.5, 0.3, 0.3, 3.0, 0.3]
x_or = [0.3, 3.4, 0.3, 0.3, 2.2, 0.3, 0.3, 1.3, 0.3, 0.2, 0.7, 0.2, 0.2, 0.5, 0.2, 0.3, 2.9, 0.3, 0.3, 1.6, 0.3, 0.3, 1.1, 0.3, 0.3, 3.4, 0.3, 0.3, 1.8, 0.3, 0.3, 1.3, 0.3, 0.3, 3.2, 0.3, 0.3, 1.3, 0.3, 0.3, 2.7, 0.3]
x_in = [0.2, 3.5, 0.3, 0.2, 2.8, 0.3, 0.2, 1.8, 0.3, 0.2, 1.2, 0.2, 0.2, 0.8, 0.2, 0.2, 3.5, 0.3, 0.2, 2.0, 0.3, 0.2, 1.5, 0.3, 0.2, 3.5, 0.3, 0.2, 2.2, 0.3, 0.2, 1.8, 0.3, 0.2, 3.8, 0.3, 0.2, 1.8, 0.3, 0.2, 3.2, 0.3]

y_ss = [72, 92, 70, 96, 68, 93, 66, 90, 63, 86, 58, 78, 52, 70, 50, 75, 55, 88, 52, 70, 45]
y_os = [70, 94, 67, 97, 65, 94, 62, 91, 60, 87, 55, 79, 48, 70, 46, 76, 52, 89, 48, 71, 42]
y_sr = [3, 8, 3, 30, 3, 10, 3, 8, 3, 6, 3, 5, 3, 4, 3, 5, 3, 6, 3, 5, 3]
y_or = [2.5, 7, 2.5, 27, 2.5, 9, 2.5, 7, 2.5, 5, 2.5, 4.5, 2.5, 3.5, 2.5, 4.5, 2.5, 5, 2.5, 4.5, 2.5]
y_in = [5, 15, 5, 35, 5, 12, 5, 10, 5, 12, 5, 6, 4, 6, 4, 10, 5, 11, 4, 8, 4]

z_ss = [24, 17, 25, 16, 25, 18, 24.5, 15, 25, 17, 25, 16, 24.5, 18, 25, 15, 25, 17, 24, 16, 25, 18, 25, 16, 24.5, 17, 25, 15, 24, 17, 25, 16, 25, 18, 24.5, 16, 25, 17, 24, 15, 25, 16, 25, 18, 24.5, 17, 25, 16, 24, 15, 25, 17, 25, 16, 24.5, 18, 25, 17]
z_os = [25, 14, 25.5, 13, 25, 16, 25, 12, 25.5, 15, 25, 13, 25, 16, 25.5, 12, 25, 14, 24.5, 13, 25.5, 16, 25, 13, 25, 14, 25.5, 12, 24.5, 15, 25, 13, 25.5, 16, 25, 13, 25, 14, 24.5, 12, 25.5, 13, 25, 16, 25, 14, 25.5, 13, 24.5, 12, 25, 14, 25.5, 13, 25, 16, 25, 14]
z_sr = [1, 9, 1, 8, 1, 10, 1, 7, 1, 8, 1, 6, 1, 9, 1, 5, 1, 7, 1, 5, 1, 6, 1, 5, 1, 6, 1, 4, 1, 5, 1, 4, 1, 5, 1, 4, 1, 5, 1, 4, 1, 5, 1, 4, 1, 5, 1, 4, 1, 5, 1, 4, 1, 5, 1, 6, 1, 5]
z_or = [0.9, 8, 0.9, 7, 0.9, 9, 0.9, 6.3, 0.9, 7, 0.9, 5.4, 0.9, 8, 0.9, 4.5, 0.9, 6.3, 0.9, 4.5, 0.9, 5.4, 0.9, 4.5, 0.9, 5.4, 0.9, 3.6, 0.9, 4.5, 0.9, 3.6, 0.9, 4.5, 0.9, 3.6, 0.9, 4.5, 0.9, 3.6, 0.9, 4.5, 0.9, 3.6, 0.9, 4.5, 0.9, 3.6, 0.9, 4.5, 0.9, 3.6, 0.9, 4.5, 0.9, 5.4, 0.9, 4.5]
z_in = [0.8, 7, 0.8, 6, 0.8, 8, 0.8, 5, 0.8, 6, 0.8, 4.5, 0.8, 7, 0.8, 4, 0.8, 5.5, 0.8, 4, 0.8, 5, 0.8, 4, 0.8, 5, 0.8, 3.5, 0.8, 4, 0.8, 3.5, 0.8, 4, 0.8, 3.5, 0.8, 4, 0.8, 3.5, 0.8, 4, 0.8, 3.5, 0.8, 4, 0.8, 3.5, 0.8, 4, 0.8, 3.5, 0.8, 4, 0.8, 5, 0.8, 4]

a1_ss = [8.0, 7.0, 9.0, 6.5, 8.5, 7.5, 9.2, 6.8, 8.2, 7.0, 8.8, 7.8, 9.0, 7.2, 8.6, 7.5, 9.3, 7.0, 8.9, 7.8, 9.4, 7.5, 8.8, 8.0, 9.5, 7.2, 9.0, 7.6, 9.2, 7.0, 8.6, 7.4, 8.8, 7.8, 9.4, 7.2, 9.0, 7.5, 8.8, 7.0, 8.5, 6.8, 8.2, 6.5, 7.5, 6.8, 8.0, 7.2, 8.8, 7.5, 9.2, 7.0, 8.6, 7.8, 9.0, 6.5, 7.8, 6.8, 8.5, 7.2]
a1_os = [7.5, 6.2, 8.8, 5.8, 8.2, 6.8, 9.0, 6.0, 7.8, 6.3, 8.5, 7.0, 8.8, 6.5, 8.2, 6.8, 9.1, 6.2, 8.6, 7.0, 9.3, 6.8, 8.5, 7.4, 9.4, 6.5, 8.8, 7.0, 9.0, 6.2, 8.2, 6.7, 8.5, 7.2, 9.2, 6.5, 8.8, 6.8, 8.5, 6.2, 8.0, 6.0, 7.6, 5.6, 6.8, 6.0, 7.5, 6.5, 8.5, 6.8, 9.0, 6.3, 8.2, 7.2, 8.8, 5.8, 7.2, 6.0, 8.0, 6.5]
a1_sr = [0.3, 1.5, 0.3, 1.0, 0.3, 1.8, 0.3, 1.2, 0.3, 0.8, 0.3, 1.5, 0.3, 1.0, 0.3, 1.6, 0.3, 1.2, 0.3, 2.0, 0.3, 1.4, 0.3, 1.8, 0.3, 2.5, 0.3, 1.2, 0.3, 1.5, 0.3, 4.5, 0.3, 3.0, 0.3, 1.5, 0.3, 1.8, 0.3, 1.0, 0.3, 0.8, 0.3, 0.6, 0.3, 0.8, 0.3, 1.2, 0.3, 1.5, 0.3, 1.0, 0.3, 0.8, 0.3, 1.2, 0.3, 4.8, 0.3, 1.5]
a1_or = [0.3, 1.3, 0.3, 0.9, 0.3, 1.6, 0.3, 1.1, 0.3, 0.7, 0.3, 1.3, 0.3, 0.9, 0.3, 1.4, 0.3, 1.1, 0.3, 1.8, 0.3, 1.3, 0.3, 1.6, 0.3, 2.2, 0.3, 1.1, 0.3, 1.3, 0.3, 4.0, 0.3, 2.7, 0.3, 1.3, 0.3, 1.6, 0.3, 0.9, 0.3, 0.7, 0.3, 0.5, 0.3, 0.7, 0.3, 1.1, 0.3, 1.3, 0.3, 0.9, 0.3, 0.7, 0.3, 1.1, 0.3, 4.3, 0.3, 1.3]
a1_in = [0.2, 2.5, 0.2, 2.0, 0.2, 3.0, 0.2, 2.2, 0.2, 1.8, 0.2, 2.8, 0.2, 2.0, 0.2, 2.6, 0.2, 2.2, 0.2, 3.0, 0.2, 2.4, 0.2, 2.8, 0.2, 3.0, 0.2, 2.2, 0.2, 2.5, 0.2, 3.2, 0.2, 2.8, 0.2, 2.5, 0.2, 2.8, 0.2, 2.0, 0.2, 1.8, 0.2, 1.4, 0.2, 1.8, 0.2, 2.2, 0.2, 2.5, 0.2, 2.0, 0.2, 1.8, 0.2, 2.2, 0.2, 3.0, 0.2, 2.5]

b1_ss = [36, 30, 38, 29, 37, 31, 36, 28, 35, 30, 34, 27, 33, 28, 31, 27, 32, 26, 31, 27, 32, 26, 30, 27, 31, 26, 29, 27, 42, 32, 41, 30, 37]
b1_os = [38, 31, 37, 28, 36, 30, 35, 27, 34, 29, 33, 25, 31, 24, 28, 23, 27, 22, 26, 21, 25, 20, 23, 21, 22, 19, 20, 18, 42, 30, 42, 28, 37]
b1_sr = [3, 4, 2, 5, 2, 4, 2, 4, 2, 5, 2, 4, 2, 3, 2, 4, 2, 3, 2, 4, 2, 3, 2, 4, 2, 3, 2, 3, 2, 5, 2, 4, 3]
b1_or = [2.5, 3.5, 2, 4.5, 2, 3.5, 2, 3.5, 2, 4.5, 2, 3.5, 2, 2.5, 2, 3.5, 2, 2.5, 2, 3.5, 2, 2.5, 2, 3.5, 2, 2.5, 2, 2.5, 2, 4.5, 2, 3.5, 2.5]
b1_in = [1, 42, 1, 15, 1, 18, 1, 12, 1, 20, 1, 14, 1, 16, 1, 10, 1, 12, 1, 15, 1, 8, 1, 12, 1, 10, 1, 9, 1, 22, 1, 16, 1]

c1_ss = [6.2, 6.0, 7.6, 6.4, 6.2, 7.8, 6.5, 6.3, 7.7, 6.6, 6.4, 7.8, 6.5, 6.3, 7.7, 6.4, 6.0, 7.5, 6.4, 6.2, 7.8, 6.6, 6.4, 7.8, 6.5, 6.3, 7.7, 6.4, 6.2, 7.8, 6.6, 6.4, 7.8, 6.5, 6.3, 7.7, 6.4, 6.2, 7.0]
c1_os = [3.5, 3.4, 7.2, 3.6, 3.5, 7.5, 4.0, 3.8, 7.6, 6.6, 6.5, 7.8, 6.6, 6.5, 7.6, 3.8, 3.6, 7.5, 6.6, 6.4, 7.8, 6.8, 6.6, 7.8, 6.7, 6.5, 7.7, 6.6, 6.4, 7.8, 6.8, 6.6, 7.8, 6.6, 6.4, 7.7, 6.5, 6.3, 7.0]
c1_sr = [0.2, 0.3, 1.0, 0.2, 0.3, 2.0, 0.2, 0.3, 1.2, 0.2, 0.3, 1.5, 0.2, 0.3, 1.8, 0.2, 0.3, 1.0, 0.2, 0.3, 1.4, 0.2, 0.3, 2.2, 0.2, 0.3, 1.2, 0.2, 0.3, 1.6, 0.2, 0.3, 1.0, 0.2, 0.3, 2.4, 0.2, 0.3, 1.5]
c1_or = [0.2, 0.2, 0.8, 0.2, 0.2, 1.6, 0.2, 0.2, 1.0, 0.2, 0.2, 2.5, 0.2, 0.2, 1.4, 0.2, 0.2, 0.8, 0.2, 0.2, 1.2, 0.2, 0.2, 1.8, 0.2, 0.2, 1.0, 0.2, 0.2, 1.4, 0.2, 0.2, 0.8, 0.2, 0.2, 6.2, 0.2, 0.2, 1.3]
c1_in = [0.1, 0.2, 0.8, 0.1, 0.2, 1.5, 0.1, 0.2, 1.0, 0.1, 0.2, 1.2, 0.1, 0.2, 1.4, 0.1, 0.2, 0.8, 0.1, 0.2, 1.2, 0.1, 0.2, 1.8, 0.1, 0.2, 1.0, 0.1, 0.2, 1.3, 0.1, 0.2, 0.8, 0.1, 0.2, 2.0, 0.1, 0.2, 1.2]

d1_ss = [15, 21, 19, 24, 21, 24.5, 20, 23, 19, 21.5, 18, 20, 16, 18.5, 14, 16, 12, 24]
d1_os = [14, 20.5, 18.5, 24.5, 21.5, 25, 20, 22.5, 18, 20.5, 17, 19, 15, 17.5, 13, 15, 11, 25]
d1_sr = [5, 2, 5.5, 2.5, 6, 2, 5.5, 2.5, 6, 2, 5, 2.5, 5.5, 2, 5, 2.5, 5.5, 3]
d1_or = [5.5, 2.5, 6, 3, 6.5, 2.5, 6, 3, 6.5, 2.5, 5.5, 3, 6, 2.5, 5.5, 3, 6, 3.5]
d1_in = [1, 12, 1, 15, 1, 10, 1, 13, 1, 8, 1, 14, 1, 9, 1, 11, 1, 14]

e1_ss = [26, 28, 25, 27.5, 24, 27, 25, 28, 24, 21, 19, 24, 26, 28, 25, 27.5, 24.5, 28, 25, 27, 24, 27.5, 25, 28, 24.5, 27, 24, 26.5, 23, 25, 22, 24, 21, 23, 20.5, 22, 21, 25, 24, 27, 25, 28, 24, 27, 25, 28, 24.5, 27.5, 25, 27]
e1_os = [27, 28.5, 26, 28, 25, 27, 24, 26, 21, 15, 11, 20, 25, 28, 25.5, 28, 25, 28.5, 25.5, 27.5, 24.5, 28, 25.5, 28.5, 25, 27, 23.5, 25.5, 21.5, 23, 20, 22, 18.5, 20, 16, 15, 17, 22, 23.5, 27, 25, 28.5, 24, 27.5, 25.5, 28.5, 24.5, 28, 25, 27.5]
e1_sr = [1, 2.5, 1, 3, 1, 2, 1, 3.5, 1, 1.5, 1, 2, 1, 3, 1, 2.5, 1, 4, 1, 3, 1, 2, 1, 3, 1, 2.5, 1, 2, 1, 1.5, 1, 1.5, 1, 1.2, 1, 2, 1, 3, 1, 2.5, 1, 4, 1, 3, 1, 3.5, 1, 4, 1, 3]
e1_or = [0.9, 2.2, 0.9, 2.7, 0.9, 1.8, 0.9, 3.1, 0.9, 1.3, 0.9, 1.8, 0.9, 2.7, 0.9, 2.2, 0.9, 3.6, 0.9, 2.7, 0.9, 1.8, 0.9, 2.7, 0.9, 2.2, 0.9, 1.8, 0.9, 1.3, 0.9, 1.3, 0.9, 1.1, 0.9, 1.8, 0.9, 2.7, 0.9, 2.2, 0.9, 3.6, 0.9, 2.7, 0.9, 3.1, 0.9, 3.6, 0.9, 2.7]
e1_in = [0.5, 5, 0.5, 18, 0.5, 4, 0.5, 6, 0.5, 2, 0.5, 3, 0.5, 8, 0.5, 5, 0.5, 17, 0.5, 7, 0.5, 4, 0.5, 6, 0.5, 5, 0.5, 3, 0.5, 2.5, 0.5, 3, 0.5, 2, 0.5, 4, 0.5, 6, 0.5, 5, 0.5, 20, 0.5, 19, 0.5, 8, 0.5, 17, 0.5, 5]

f1_ss = [68, 76, 66, 74, 64, 75, 62, 72, 60, 70, 58, 65, 56, 62, 55, 76, 72]
f1_os = [72, 79, 68, 76, 66, 77, 63, 74, 61, 71, 58, 63, 54, 60, 52, 78, 74]
f1_sr = [8, 30, 6, 28, 7, 32, 6, 25, 7, 30, 6, 40, 7, 22, 6, 35, 10]
f1_or = [7, 28, 5, 26, 6, 30, 5, 23, 6, 28, 5, 37, 6, 20, 5, 32, 9]
f1_in = [6, 33, 5, 30, 5, 35, 5, 28, 5, 33, 5, 45, 5, 25, 5, 38, 8]

g1_ss = [130, 158, 120, 160, 125, 159, 118, 161, 122, 158, 115, 160, 120, 156, 117, 159, 118, 158, 120, 160, 130]
g1_os = [135, 161, 125, 163, 130, 162, 123, 164, 127, 161, 120, 163, 125, 159, 122, 162, 123, 161, 125, 163, 135]
g1_sr = [25, 15, 30, 15, 28, 14, 30, 15, 27, 14, 29, 15, 28, 14, 30, 15, 27, 14, 30, 15, 25]
g1_or = [22, 13, 27, 13, 25, 12, 27, 13, 24, 12, 26, 13, 25, 12, 27, 13, 24, 12, 27, 13, 22]
g1_in = [10, 60, 8, 65, 8, 55, 8, 72, 8, 60, 8, 68, 8, 58, 8, 70, 8, 62, 8, 75, 10]

h1_ss = [4.6, 5.9, 5.5, 4.8, 6.0, 5.6, 4.7, 6.1, 5.7, 4.5, 5.8, 5.4, 4.8, 6.0, 5.6, 4.6, 5.9, 5.5, 4.8, 6.2, 5.7, 4.9, 6.0, 5.6, 4.7, 5.9, 5.4, 4.8, 6.1, 5.6, 4.7, 6.0, 5.5]
h1_os = [4.4, 5.8, 5.4, 4.6, 5.9, 5.5, 4.5, 6.0, 5.6, 4.3, 5.7, 5.3, 4.6, 5.9, 5.5, 4.4, 5.8, 5.4, 4.6, 6.1, 5.6, 4.7, 5.9, 5.5, 4.5, 5.8, 5.3, 4.6, 6.0, 5.5, 4.5, 5.9, 5.4]
h1_sr = [0.3, 2.0, 0.4, 0.3, 3.0, 0.4, 0.3, 1.5, 0.3, 0.3, 1.8, 0.3, 0.3, 1.2, 0.3, 0.3, 1.6, 0.3, 0.3, 2.5, 0.3, 0.3, 1.4, 0.3, 0.3, 1.8, 0.3, 0.3, 2.8, 0.3, 0.3, 1.6, 0.3]
h1_or = [0.3, 1.8, 0.3, 0.3, 2.7, 0.3, 0.3, 1.3, 0.3, 0.3, 1.6, 0.3, 0.3, 1.1, 0.3, 0.3, 1.4, 0.3, 0.3, 2.2, 0.3, 0.3, 1.2, 0.3, 0.3, 1.6, 0.3, 0.3, 2.5, 0.3, 0.3, 1.4, 0.3]
h1_in = [0.2, 1.6, 0.3, 0.2, 2.4, 0.3, 0.2, 1.2, 0.2, 0.2, 1.5, 0.2, 0.2, 1.0, 0.2, 0.2, 1.3, 0.2, 0.2, 2.0, 0.2, 0.2, 1.1, 0.2, 0.2, 1.5, 0.2, 0.2, 2.2, 0.2, 0.2, 1.3, 0.2]

i1_ss = [6.5, 5.8, 6.8, 5.6, 6.6, 6.0, 6.9, 5.7, 6.7, 5.9, 6.8, 5.6, 6.5, 6.0, 6.9, 5.8, 6.6, 5.7, 6.4, 6.2, 6.8, 5.9, 6.6, 5.7, 6.5, 6.0, 6.7, 5.8, 6.6, 5.6, 6.8, 6.0, 6.9, 5.8, 6.7, 5.9, 6.8, 5.7, 6.6, 6.1]
i1_os = [6.8, 5.6, 7.0, 5.4, 6.9, 5.8, 7.1, 5.5, 7.0, 5.7, 7.1, 5.4, 6.8, 5.8, 7.1, 5.6, 6.9, 5.5, 6.7, 6.0, 7.0, 5.7, 6.9, 5.5, 6.8, 5.8, 7.0, 5.6, 6.9, 5.4, 7.1, 5.8, 7.2, 5.6, 7.0, 5.7, 7.1, 5.5, 6.9, 5.9]
i1_sr = [0.5, 3.2, 0.5, 2.8, 0.5, 3.5, 0.5, 2.0, 0.5, 2.5, 0.5, 3.0, 0.5, 1.8, 0.5, 2.2, 0.5, 3.4, 0.5, 1.5, 0.5, 2.0, 0.5, 1.2, 0.5, 1.0, 0.5, 2.5, 0.5, 1.8, 0.5, 2.8, 0.5, 3.2, 0.5, 2.0, 0.5, 3.5, 0.5, 2.5]
i1_or = [0.4, 2.9, 0.4, 2.5, 0.4, 3.2, 0.4, 1.8, 0.4, 2.2, 0.4, 2.7, 0.4, 1.6, 0.4, 2.0, 0.4, 3.1, 0.4, 1.3, 0.4, 1.8, 0.4, 1.1, 0.4, 0.9, 0.4, 2.2, 0.4, 1.6, 0.4, 2.5, 0.4, 2.9, 0.4, 1.8, 0.4, 3.2, 0.4, 2.2]
i1_in = [0.6, 3.6, 0.6, 3.1, 0.6, 3.9, 0.6, 2.3, 0.6, 2.8, 0.6, 3.3, 0.6, 2.1, 0.6, 2.5, 0.6, 3.8, 0.6, 1.8, 0.6, 2.3, 0.6, 1.5, 0.6, 1.3, 0.6, 2.8, 0.6, 2.1, 0.6, 3.1, 0.6, 3.6, 0.6, 2.3, 0.6, 3.9, 0.6, 2.8]

# title, x-range, x ticks, left top, left ticks, right limits, right ticks, right exponent
panels = [
    ("(a) American Falls", 1978.2, 1996.7, [1982, 1987, 1993], 27, [0, 2.5, 5, 7.5, 10], (-0.57, 2.29), [0, 1, 2], 9, a_ss, a_os, a_sr, a_or, a_in),
    ("(b) Andijan", 2002.4, 2011.3, [2004, 2006, 2009], 11.1, [0, 2, 4, 6, 8], (-22.3, 23.2), [0, 5, 10, 15, 20], 8, b_ss, b_os, b_sr, b_or, b_in),
    ("(c) Bhumibol", 1979.5, 1999.1, [1982, 1987, 1993], 55, [0, 5, 10, 15, 20, 25, 30], (0.71, 15.0), [2, 4, 6, 8, 10, 12], 9, c_ss, c_os, c_sr, c_or, c_in),
    ("(d) Bull Lake", 2001.6, 2013.5, [2004, 2006, 2009, 2012], 2.5, [0, 0.5, 1], (0, 2), [1, 2], 9, d_ss, d_os, d_sr, d_or, d_in),
    ("(e) Canyon Ferry", 1966.3, 2013.3, [1976, 1982, 1987, 1993, 1998, 2004, 2009], 8.7, [0, 2, 4, 6, 8], (-0.09, 4.26), [1, 2], 9, e_ss, e_os, e_sr, e_or, e_in),
    ("(f) Charvak", 2001.9, 2010.4, [2004, 2006, 2009], 11.9, [0, 2.5, 5, 7.5, 10], (-2.38, 2.38), [0, 0.5, 1, 1.5, 2], 9, f_ss, f_os, f_sr, f_or, f_in),
    ("(g) Dickson", 2006.5, 2011.2, [2008, 2009, 2010], 6.9, [0, 2, 4, 6], (-10, 12), [0, 5, 10], 8, g_ss, g_os, g_sr, g_or, g_in),
    ("(h) E.B. Campbell", 1999.8, 2010.7, [2001, 2004, 2006, 2009], 43.5, [0, 10, 20, 30, 40], (0, 2), [1, 2], 9, h_ss, h_os, h_sr, h_or, h_in),
    ("(i) Flaming Gorge", 1969.3, 2013.7, [1984, 1998, 2012], 10.1, [0, 2, 4, 6, 8], (1.92, 5.0), [3, 4, 5], 9, i_ss, i_os, i_sr, i_or, i_in),
    ("(j) Fort Peck", 1970.7, 1999.4, [1971, 1984, 1998], 20.7, [0, 3, 6, 9, 12], (-0.33, 2.7), [1, 2], 10, j_ss, j_os, j_sr, j_or, j_in),
    ("(k) Fort Randall", 1969.4, 2001.2, [1971, 1984, 1998], 52, [0, 5, 10, 15, 20, 25, 30], (0.17, 6.1), [1, 2, 3, 4, 5, 6], 9, k_ss, k_os, k_sr, k_or, k_in),
    ("(l) Gardiner", 1980.4, 2011.8, [1982, 1987, 1993, 1998, 2004, 2009], 41, [0, 10, 20, 30, 40], (0, 2), [1, 2], 9, l_ss, l_os, l_sr, l_or, l_in),
    ("(m) Garrison", 1971.0, 2001.0, [1971, 1984, 1998], 31.5, [0, 7.5, 15, 22.5, 30], (-0.7, 3.08), [1, 2, 3], 10, m_ss, m_os, m_sr, m_or, m_in),
    ("(n) Ghost", 1990.2, 2010.6, [1993, 1998, 2004, 2009], 10.5, [0, 2, 4, 6], (-0.3, 6.64), [2, 3.5, 5, 6.5], 7, n_ss, n_os, n_sr, n_or, n_in),
    ("(o) Glen Canyon", 1980.1, 1996.9, [1982, 1987, 1993], 41, [0, 10, 20, 30, 40], (1.0, 3.04), [1, 2, 3], 10, o_ss, o_os, o_sr, o_or, o_in),
    ("(p) Grand Coulee", 1978.4, 1990.6, [1979, 1982, 1984, 1987, 1990], 143, [0, 20, 40, 60, 80, 100, 120, 140], (0, 2), [1, 2], 9, p_ss, p_os, p_sr, p_or, p_in),
    ("(q) High Aswan", 1971.0, 1997.5, [1976, 1982, 1987, 1993], 143, [0, 25, 50, 75, 100], (-1.22, 1.56), [0, 0.5, 1, 1.5], 11, q_ss, q_os, q_sr, q_or, q_in),
    ("(r) Int. Amistad", 1974.6, 2003.2, [1982, 1987, 1993, 1998], 27, [0, 5, 10, 15, 20], (-1.23, 5.13), [1, 2, 3, 4, 5], 9, r_ss, r_os, r_sr, r_or, r_in),
    ("(s) Int. Falcon", 1945.8, 2001.8, [1971, 1984, 1998], 52.6, [0, 10, 20, 30, 40, 50], (-1.94, 3.61), [0.5, 1.5, 2.5, 3.5], 9, s_ss, s_os, s_sr, s_or, s_in),
    ("(t) Kayrakkum", 1999.8, 2010.7, [2004, 2006, 2009], 20, [0, 2.5, 5, 7.5, 10, 12.5, 15], (0, 2), [1, 2], 9, t_ss, t_os, t_sr, t_or, t_in),
    ("(u) Navajo", 1967.2, 2013.7, [1976, 1982, 1987, 1993, 1998, 2004, 2009], 4.1, [0, 1, 2, 3, 4], (0.14, 2.1), [1, 1.5, 2], 9, u_ss, u_os, u_sr, u_or, u_in),
    ("(v) Nurek", 2000.9, 2010.5, [2004, 2006, 2009], 27.4, [0, 5, 10, 15, 20], (-2.9, 12.8), [4, 6, 8, 10, 12], 9, v_ss, v_os, v_sr, v_or, v_in),
    ("(w) Oahe", 1969.4, 2001.2, [1971, 1984, 1998], 30, [0, 5, 10, 15, 20], (-0.02, 3.16), [1, 2, 3], 10, w_ss, w_os, w_sr, w_or, w_in),
    ("(x) Oldman", 1996.7, 2010.7, [1998, 2001, 2004, 2006, 2009], 13.7, [0, 2.5, 5, 7.5, 10], (0, 2), [1, 2], 9, x_ss, x_os, x_sr, x_or, x_in),
    ("(y) Oroville", 1995.0, 2005.5, [1998, 2001, 2004], 103, [0, 20, 40, 60, 80], (0.11, 4.16), [1, 2, 3, 4], 9, y_ss, y_os, y_sr, y_or, y_in),
    ("(z) Palisades", 1970.7, 1999.4, [1971, 1984, 1998], 26.8, [0, 5, 10, 15], (-0.73, 1.49), [0, 1], 9, z_ss, z_os, z_sr, z_or, z_in),
    ("(a1) Seminoe", 1952.1, 2013.0, [1957, 1971, 1984, 1998, 2012], 9.7, [0, 1.5, 3, 4.5, 6], (-7.2, 12.8), [0, 4, 8, 12], 8, a1_ss, a1_os, a1_sr, a1_or, a1_in),
    ("(b1) Sirikit", 1980.5, 1996.9, [1982, 1987, 1993], 43, [0, 10, 20, 30, 40], (0, 2), [1, 2], 9, b1_ss, b1_os, b1_sr, b1_or, b1_in),
    ("(c1) St. Mary", 2000.4, 2013.3, [2001, 2004, 2006, 2009], 8.3, [0, 2, 4, 6, 8], (-1.26, 4.0), [0, 1, 2, 3, 4], 8, c1_ss, c1_os, c1_sr, c1_or, c1_in),
    ("(d1) Toktogul", 2001.9, 2010.4, [2004, 2006, 2009], 26.3, [0, 5, 10, 15, 20], (-2.2, 20.0), [0, 5, 10, 15, 20], 9, d1_ss, d1_os, d1_sr, d1_or, d1_in),
    ("(e1) Trinity", 1970.6, 1999.6, [1971, 1984, 1998], 30.5, [0, 5, 10, 15, 20, 25, 30], (-0.95, 2.69), [0, 1, 2], 9, e1_ss, e1_os, e1_sr, e1_or, e1_in),
    ("(f1) Tyuyamuyun", 2001.9, 2010.2, [2004, 2006, 2009], 83, [0, 10, 20, 30, 40, 50], (0, 2), [1, 2], 9, f1_ss, f1_os, f1_sr, f1_or, f1_in),
    ("(g1) W.A.C. Bennett", 1998.0, 2008.0, [2000, 2003, 2006], 165, [0, 25, 50, 75, 100], (0.23, 4.28), [1, 2, 3, 4], 10, g1_ss, g1_os, g1_sr, g1_or, g1_in),
    ("(h1) Waterton", 1998.0, 2009.0, [2001, 2004, 2007], 6.6, [0, 1, 2, 3, 4], (-0.95, 2.22), [0, 0.5, 1, 1.5, 2], 8, h1_ss, h1_os, h1_sr, h1_or, h1_in),
    ("(i1) Yellowtail", 1970.0, 2000.0, [1971, 1984, 1998], 8.1, [0, 2, 4, 6], (-6.5, 19.1), [5, 10, 15], 8, i1_ss, i1_os, i1_sr, i1_or, i1_in),
]

# ---- layout (pixels) ----
W, H = 496, 615
col_left = [15, 142, 269, 397]
ax_w = 96
row_top = [14, 93, 165, 235, 304, 374, 438, 507, 573]
row_bot = [71, 141, 208, 277, 347, 415, 483, 547, 619]
FS = 5.2

fig = plt.figure(figsize=(W / 100, H / 100), dpi=100)

for k, (title, x0, x1, xt, ytop, lt, rlim, rt, rexp, ss, os_, sr, orr, inf) in enumerate(panels):
    r, c = divmod(k, 4)
    rect = [col_left[c] / W, 1 - row_bot[r] / H, ax_w / W, (row_bot[r] - row_top[r]) / H]
    ax = fig.add_axes(rect)
    for vals, col, lw in ((inf, C_IN, 0.5), (sr, C_SR, 0.5), (orr, C_OR, 0.45), (os_, C_OS, 0.55), (ss, C_SS, 0.55)):
        ax.plot(np.linspace(x0, x1, len(vals)), vals, color=col, lw=lw)
    ax.set_xlim(x0, x1)
    ax.set_ylim(0, ytop)
    ax.set_xticks(xt)
    ax.set_xticklabels([f"{y % 100:02d}" for y in xt])
    ax.set_yticks(lt)
    ax.set_yticklabels([f"{v:g}" for v in lt])
    ax.tick_params(labelsize=FS, length=1.5, width=0.4, pad=1.5, direction="in")
    ax2 = ax.twinx()
    ax2.set_ylim(*rlim)
    ax2.set_yticks(rt)
    ax2.set_yticklabels([f"{v:g}" for v in rt])
    ax2.tick_params(labelsize=FS, length=1.5, width=0.4, pad=1.5, direction="in")
    for a in (ax, ax2):
        for sp in a.spines.values():
            sp.set_linewidth(0.5)
            sp.set_color("#555555")
    ax.set_title(title, fontsize=FS, pad=1.2)
    ax.annotate(r"$\times10^{2}$", xy=(0, 1), xycoords="axes fraction", xytext=(0, 1.2),
                textcoords="offset points", ha="left", va="bottom", fontsize=FS)
    ax.annotate(r"$\times10^{%d}$" % rexp, xy=(1, 1), xycoords="axes fraction", xytext=(-1.5, 1.2),
                textcoords="offset points", ha="left", va="bottom", fontsize=FS)

handles = [Line2D([], [], color=C_SS, lw=0.8), Line2D([], [], color=C_OS, lw=0.8),
           Line2D([], [], color=C_SR, lw=0.8), Line2D([], [], color=C_OR, lw=0.8),
           Line2D([], [], color=C_IN, lw=0.8)]
labels = ["Simulated storage", "Observed storage", "Simulated release", "Observed release", "Inflow"]
fig.legend(handles, labels, loc="upper left", bbox_to_anchor=(0.012, 1.004), ncol=5, frameon=False,
           fontsize=FS, handlelength=3.75, handletextpad=0.7, columnspacing=3.9, borderpad=0.1,
           borderaxespad=0)

fig.savefig("out.png", dpi=100)
